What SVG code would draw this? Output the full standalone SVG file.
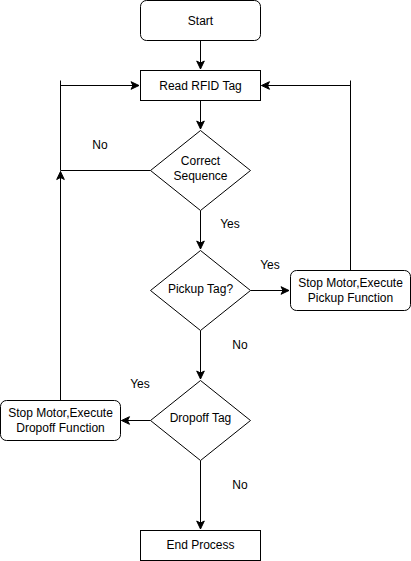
<svg xmlns="http://www.w3.org/2000/svg" width="411" height="561" viewBox="0 0 411 561">
<style>
.box{fill:#fff;stroke:#000;stroke-width:1}
.edge{fill:none;stroke:#000;stroke-width:1}
text{font-family:"Liberation Sans",Arial,Helvetica,sans-serif;font-size:12px;fill:#000;text-anchor:middle;dominant-baseline:central}
</style>
<defs>
<marker id="arr" markerUnits="userSpaceOnUse" markerWidth="10" markerHeight="10" viewBox="0 0 10 10" refX="9" refY="5" orient="auto">
<path d="M1,1.2 L9,5 L1,8.8 L3,5 Z" fill="#000" stroke="#000" stroke-width="1"/>
</marker>
</defs>
<rect width="411" height="561" fill="#fff"/>
<g id="connectors">
<path class="edge" d="M200.5,40.5 V69" marker-end="url(#arr)"/>
<path class="edge" d="M200.5,100.5 V129" marker-end="url(#arr)"/>
<path class="edge" d="M150.5,170.5 H60.5 V85.5 H139" marker-end="url(#arr)"/>
<path class="edge" d="M60.5,80.5 V86"/>
<path class="edge" d="M200.5,210.5 V249" marker-end="url(#arr)"/>
<path class="edge" d="M250.5,290.5 H289" marker-end="url(#arr)"/>
<path class="edge" d="M350.5,270.5 V85.5 H261.5" marker-end="url(#arr)"/>
<path class="edge" d="M350.5,80.5 V86"/>
<path class="edge" d="M200.5,330.5 V379" marker-end="url(#arr)"/>
<path class="edge" d="M150.5,420.5 H121.5" marker-end="url(#arr)"/>
<path class="edge" d="M60.5,400.5 V171.5" marker-end="url(#arr)"/>
<path class="edge" d="M200.5,460.5 V529" marker-end="url(#arr)"/>
<text x="100" y="145">No</text>
<text x="230" y="224">Yes</text>
<text x="270" y="265">Yes</text>
<text x="240" y="345">No</text>
<text x="140" y="384">Yes</text>
<text x="240" y="485">No</text>
</g>
<g id="start"><rect class="box" x="140.5" y="0.5" width="120" height="40" rx="6"/><text x="200.5" y="20.5">Start</text></g>
<g id="read"><rect class="box" x="140.5" y="70.5" width="120" height="30"/><text x="200.5" y="85.5">Read RFID Tag</text></g>
<g id="correct"><path class="box" d="M200.5,130.5 L250.5,170.5 L200.5,210.5 L150.5,170.5 Z"/><text x="200.5" y="161">Correct</text><text x="200.5" y="176">Sequence</text></g>
<g id="pickup"><path class="box" d="M200.5,250.5 L250.5,290.5 L200.5,330.5 L150.5,290.5 Z"/><text x="200.5" y="288.5">Pickup Tag?</text></g>
<g id="pickupfn"><rect class="box" x="290.5" y="270.5" width="120" height="40" rx="6"/><text x="350.5" y="283">Stop Motor,Execute</text><text x="350.5" y="298">Pickup Function</text></g>
<g id="dropoff"><path class="box" d="M200.5,380.5 L250.5,420.5 L200.5,460.5 L150.5,420.5 Z"/><text x="200.5" y="418">Dropoff Tag</text></g>
<g id="dropofffn"><rect class="box" x="0.5" y="400.5" width="120" height="40" rx="6"/><text x="60.5" y="413">Stop Motor,Execute</text><text x="60.5" y="428">Dropoff Function</text></g>
<g id="end"><rect class="box" x="140.5" y="530.5" width="120" height="30"/><text x="200.5" y="545">End Process</text></g>
</svg>
